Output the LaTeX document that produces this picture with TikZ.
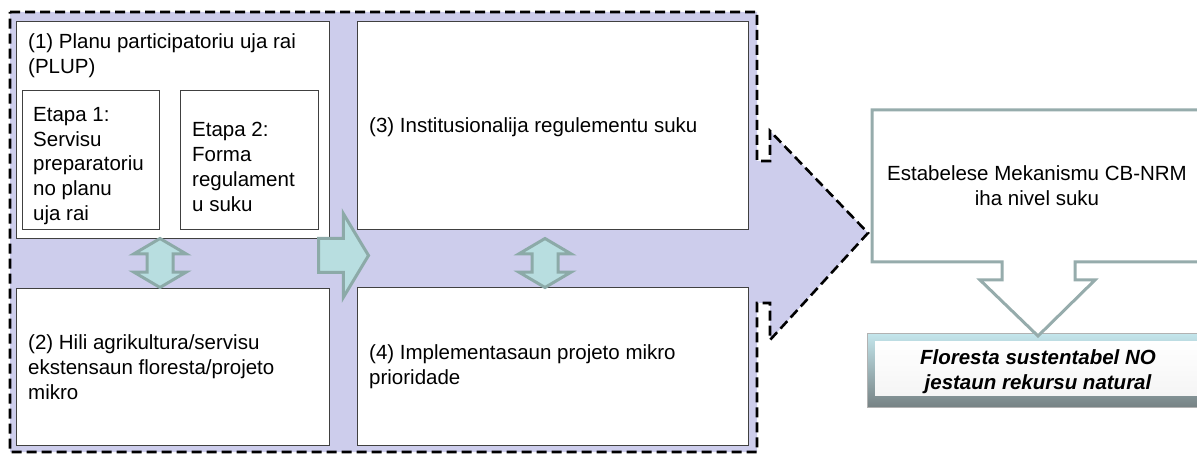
\documentclass[tikz,border=0pt]{standalone}
\usepackage{fontspec}
\setmainfont{Liberation Sans}
\usetikzlibrary{shapes.arrows}
\definecolor{lavender}{RGB}{205,205,236}
\definecolor{tealfill}{RGB}{184,222,224}
\definecolor{tealline}{RGB}{140,170,168}
\definecolor{calloutline}{RGB}{150,172,172}
\definecolor{bevtop}{RGB}{196,230,236}
\definecolor{bevbot}{RGB}{118,130,132}
\begin{document}
\begin{tikzpicture}[x=1pt, y=-1pt,
    every node/.style={font=\fontsize{20.5}{24.8}\selectfont, inner sep=0pt},
    box/.style={draw=black!75, line width=1.1pt, fill=white, anchor=north west},
    txt/.style={anchor=west, align=left},
    dblarrow/.style={double arrow, shape border rotate=90, draw=tealline, fill=tealfill,
      line width=3pt, inner sep=11.5pt, minimum height=49pt, double arrow head extend=13pt,
      double arrow tip angle=119},
    fwdarrow/.style={single arrow, draw=tealline, fill=tealfill, line width=3pt,
      inner sep=15.5pt, minimum height=50pt, single arrow head extend=25pt,
      single arrow tip angle=118, anchor=tail}]

  \useasboundingbox (0,0) rectangle (1197,454);

  % big lavender arrow
  \draw[fill=lavender, line width=2.6pt, dash pattern=on 10pt off 5pt]
    (10,12) -- (757,12) -- (757,161) -- (770,161) -- (770,131) -- (868,233)
    -- (770,340) -- (770,303) -- (757,303) -- (757,452) -- (10,452) -- cycle;

  % boxes
  \node (plup) [box, minimum width=313pt, minimum height=217pt] at (16,21) {};
  \node (plupt) [txt] at (28,56) {(1) Planu participatoriu uja rai\\(PLUP)};
  \node (etapa1) [box, minimum width=137pt, minimum height=139pt] at (22,90) {};
  \node (etapa1t) [txt] at (33,166) {Etapa 1:\\Servisu\\preparatoriu\\no planu\\uja rai};
  \node (etapa2) [box, minimum width=138pt, minimum height=139pt] at (180,90) {};
  \node (etapa2t) [txt] at (192,167) {Etapa 2:\\Forma\\regulament\\u suku};
  \node (hili) [box, minimum width=313pt, minimum height=157pt] at (16,288) {};
  \node (hilit) [txt] at (28,367) {(2) Hili agrikultura/servisu\\ekstensaun floresta/projeto\\mikro};
  \node (inst) [box, minimum width=391pt, minimum height=208pt] at (357,21) {};
  \node (instt) [txt] at (369,127) {(3) Institusionalija regulementu suku};
  \node (impl) [box, minimum width=391pt, minimum height=158pt] at (357,287) {};
  \node (implt) [txt] at (369,367) {(4) Implementasaun projeto mikro\\prioridade};

  % block arrows between boxes
  \node (link12) [dblarrow] at (160,263) {};
  \node (link34) [dblarrow] at (545,263) {};
  \node (link13) [fwdarrow] at (317,255.5) {};

  % goal box with bevel
  \node (goalbev) [anchor=north west, minimum width=340pt, minimum height=74pt,
    top color=bevtop, bottom color=bevbot,
    draw=gray!60, line width=0.8pt] at (867,333) {};
  \node (goal) [anchor=north west, minimum width=330pt, minimum height=54pt,
    top color=white, bottom color=white!92!gray, draw=none] at (875,341) {};
  \node (goalt) [align=center, font=\fontsize{20.5}{24.8}\selectfont\bfseries\itshape]
    at (1038,372) {Floresta sustentabel NO\\jestaun rekursu natural};

  % callout with down arrow
  \draw[draw=calloutline, fill=white, line width=3pt, line join=miter]
    (1205,110) -- (872,110) -- (872,262) -- (1002,262) -- (1002,280) -- (980,280)
    -- (1038,336) -- (1095,280) -- (1075,280) -- (1075,262) -- (1205,262);
  \node (cbnrm) [align=center] at (1037,186) {Estabelese Mekanismu CB-NRM\\iha nivel suku};
\end{tikzpicture}
\end{document}
